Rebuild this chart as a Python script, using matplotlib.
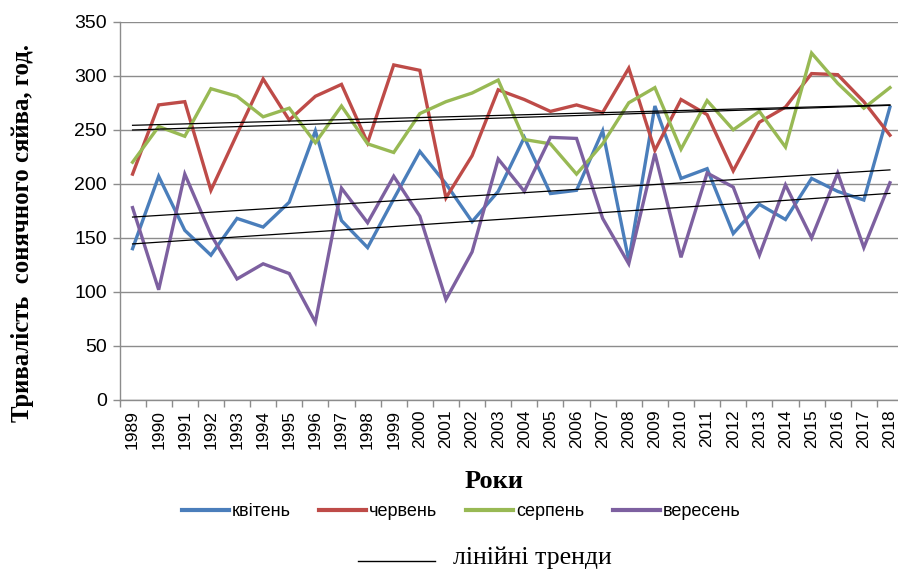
import numpy as np
import matplotlib
matplotlib.use("Agg")
import matplotlib.pyplot as plt
from matplotlib.lines import Line2D

years = list(range(1989, 2019))
kviten = [140, 207, 157, 134, 168, 160, 183, 249, 166, 141,
          186, 230, 200, 165, 193, 243, 191, 194, 249, 129,
          272, 205, 214, 154, 181, 167, 205, 193, 185, 271]
cherven = [209, 273, 276, 194, 246, 297, 259, 281, 292, 238,
           310, 305, 187, 226, 287, 278, 267, 273, 266, 307,
           231, 278, 264, 212, 257, 271, 302, 301, 276, 245]
serpen = [220, 253, 244, 288, 281, 262, 270, 238, 272, 237,
          229, 265, 276, 284, 296, 241, 237, 209, 237, 275,
          289, 232, 277, 250, 267, 234, 321, 293, 270, 289]
veresen = [178, 102, 209, 153, 112, 126, 117, 72, 196, 164,
           207, 170, 93, 137, 223, 193, 243, 242, 168, 126,
           228, 132, 210, 197, 134, 199, 150, 210, 141, 201]

series_names = ["квітень", "червень", "серпень", "вересень"]
series_values = [kviten, cherven, serpen, veresen]
colors = ["#4A7EBB", "#BE4B48", "#98B954", "#7D60A0"]
yticks = [0, 50, 100, 150, 200, 250, 300, 350]

W, H = 898, 570
fig = plt.figure(figsize=(W / 100, H / 100), dpi=100)
left, right, top, bottom = 119.5, 903, 21.7, 400
ax = fig.add_axes([left / W, 1 - bottom / H, (right - left) / W, (bottom - top) / H])

x = np.arange(len(years))
for vals, c in zip(series_values, colors):
    ax.plot(x, vals, color=c, lw=2.4, solid_joinstyle="miter", zorder=3)
for vals in series_values:
    k, b = np.polyfit(x, vals, 1)
    ax.plot([x[0], x[-1]], [b + k * x[0], b + k * x[-1]], color="black", lw=0.9, zorder=4)

ax.set_xlim(-0.5, len(years) - 0.5)
ax.set_ylim(0, 350)
ax.set_yticks(yticks)
ax.set_yticklabels([str(v) for v in yticks], fontsize=14, family="Liberation Sans")
ax.yaxis.grid(True, color="#8C8C8C", lw=1)
ax.set_axisbelow(True)

ax.set_xticks(np.arange(len(years) + 1) - 0.5)
ax.set_xticklabels([])
ax.set_xticks(x, minor=True)
ax.set_xticklabels([str(y) for y in years], minor=True, rotation=90,
                   fontsize=12.5, family="Liberation Sans")
ax.tick_params(axis="x", which="minor", length=0, pad=7)
ax.tick_params(axis="x", which="major", length=5, color="#8C8C8C", width=1)
ax.tick_params(axis="y", length=5, color="#8C8C8C", width=1, pad=4)

for s in ["top", "right"]:
    ax.spines[s].set_visible(False)
for s in ["left", "bottom"]:
    ax.spines[s].set_color("#8C8C8C")
    ax.spines[s].set_linewidth(1)

fig.text(23 / W, 1 - 233 / H, "Тривалість  сонячного сяйва, год.", rotation=90,
         ha="center", va="center", fontsize=17.8, fontweight="bold", family="Liberation Serif")
fig.text(494 / W, 1 - 481 / H, "Роки", ha="center", va="center",
         fontsize=19, fontweight="bold", family="Liberation Serif")

handles = [Line2D([], [], color=c, lw=3) for c in colors]
leg = fig.legend(handles, series_names, loc="center", bbox_to_anchor=(461 / W, 1 - 512 / H),
                 ncol=4, frameon=False, prop={"family": "Liberation Sans", "size": 13},
                 handlelength=2.6, handletextpad=0.15, columnspacing=1.6, borderpad=0)

fig.add_artist(Line2D([358 / W, 435 / W], [1 - 561 / H, 1 - 561 / H], color="black", lw=1))
fig.text(453 / W, 1 - 558 / H, "лінійні тренди", ha="left", va="center",
         fontsize=18.5, family="Liberation Serif")

fig.savefig("out.png", dpi=100)
